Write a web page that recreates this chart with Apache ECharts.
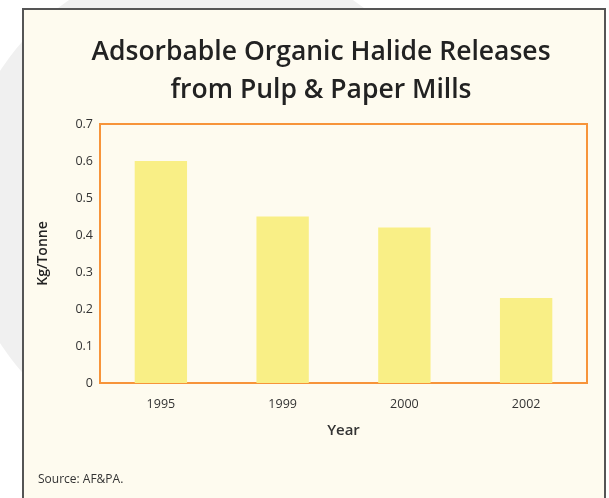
<!DOCTYPE html>
<html><head><meta charset="utf-8">
<script src="https://cdn.jsdelivr.net/npm/echarts@6/dist/echarts.min.js"></script>
<style>html,body{margin:0;padding:0;background:#fff}#c{width:609px;height:498px}</style>
</head><body><div id="c"></div>
<script>
const categories = ['1995','1999','2000','2002'];
const values = [0.6, 0.45, 0.42, 0.23];
const yTicks = [0, 0.1, 0.2, 0.3, 0.4, 0.5, 0.6, 0.7];
const titleLines = ['Adsorbable Organic Halide Releases', 'from Pulp & Paper Mills'];
const sourceText = 'Source: AF&PA.';

const chart = echarts.init(document.getElementById('c'), null, {renderer:'canvas'});
chart.setOption({
  backgroundColor: '#ffffff',
  animation: false,
  graphic: [
    {type:'circle', z:-10, shape:{cx:211, cy:207, r:251}, style:{fill:'#f0f0f0'}, silent:true},
    {type:'rect', z:-5, shape:{x:23, y:9, width:582, height:520}, style:{fill:'#fefbef', stroke:'#555555', lineWidth:2}, silent:true},
    {type:'text', left:38, top:474, style:{text:sourceText, fill:'#333', font:'12px "Open Sans"'}}
  ],
  title: {
    text: titleLines.join('\n'),
    left: 316, top: 28, textAlign: 'center',
    textStyle: {fontFamily:'Open Sans', fontWeight:600, fontSize:26.5, color:'#222', lineHeight:38}
  },
  grid: {left:100, right:22, top:124, bottom:115, show:true, borderColor:'#f7943a', borderWidth:2, backgroundColor:'transparent'},
  xAxis: {
    type:'category', data:categories,
    axisLine:{show:false}, axisTick:{show:false},
    axisLabel:{color:'#333', fontFamily:'Open Sans', fontSize:12.5, margin:15},
    name:'Year', nameLocation:'middle', nameGap:40,
    nameTextStyle:{fontFamily:'Open Sans', fontWeight:600, fontSize:15, color:'#333'}
  },
  yAxis: {
    type:'value', min:0, max:0.7, interval:0.1,
    splitLine:{show:false}, axisLine:{show:false}, axisTick:{show:false},
    axisLabel:{color:'#333', fontFamily:'Open Sans', fontSize:12.5, margin:7,
      formatter: v => { const t = yTicks.find(x => Math.abs(x - v) < 1e-9); return t === 0 ? '0' : String(t); }},
    name:'Kg/Tonne', nameLocation:'middle', nameGap:50, nameRotate:90,
    nameTextStyle:{fontFamily:'Open Sans', fontWeight:600, fontSize:14, color:'#222'}
  },
  series: [{
    type:'bar', data:values, barWidth:'43%',
    itemStyle:{color:'#f9ef86'}
  }]
});
</script></body></html>
